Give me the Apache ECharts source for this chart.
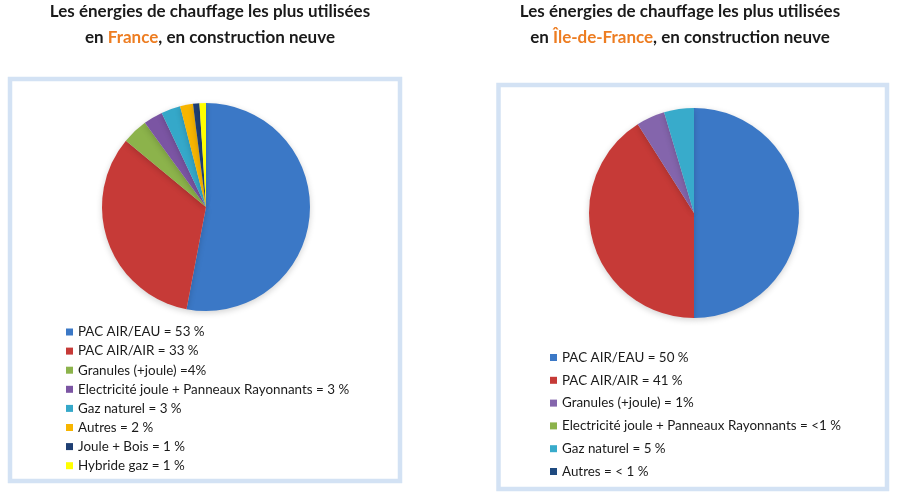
<!DOCTYPE html>
<html><head><meta charset="utf-8">
<script src="https://cdn.jsdelivr.net/npm/echarts@6/dist/echarts.min.js"></script>
<style>html,body{margin:0;padding:0;background:#fff}#c{width:900px;height:494px}</style>
</head><body><div id="c"></div>
<script>
// Left chart: France
const franceLabels = [
  "PAC AIR/EAU = 53 %",
  "PAC AIR/AIR = 33 %",
  "Granules (+joule) =4%",
  "Electricité joule + Panneaux Rayonnants = 3 %",
  "Gaz naturel = 3 %",
  "Autres = 2 %",
  "Joule + Bois = 1 %",
  "Hybride gaz = 1 %"
];
const franceValues = [53, 33, 4, 3, 3, 2, 1, 1];
const franceColors = ["#3b78c6", "#c63a37", "#8cb34b", "#7b55a3", "#35a8c9", "#f7b500", "#1f3f73", "#ffff00"];

// Right chart: Île-de-France (slice sizes as drawn)
const idfLabels = [
  "PAC AIR/EAU = 50 %",
  "PAC AIR/AIR = 41 %",
  "Granules (+joule) = 1%",
  "Electricité joule + Panneaux Rayonnants = <1 %",
  "Gaz naturel = 5 %",
  "Autres = < 1 %"
];
const idfValues = [50, 41, 4.4, 0, 4.6, 0];
const idfColors = ["#3b78c6", "#c63a37", "#8465ac", "#8cb34b", "#38abcb", "#1f4a80"];

const titleLine1 = "Les énergies de chauffage les plus utilisées";
const titleLeftPlace = "France";
const titleRightPlace = "Île-de-France";
const titleLine2Suffix = ", en construction neuve";

const FONT = "Lato, 'Open Sans', sans-serif";

function mkData(labels, values, colors) {
  return labels.map((n, i) => ({ name: n, value: values[i], itemStyle: { color: colors[i] } }));
}
function mkTitle(place, cx) {
  const base = { fontFamily: FONT, fontWeight: 'bold', fontSize: 17, color: '#1a1a1a', lineHeight: 26 };
  return {
    text: titleLine1 + "\n{n|en }{o|" + place + "}{n|" + titleLine2Suffix + "}",
    left: cx, top: -6, textAlign: 'center',
    textStyle: Object.assign({}, base, {
      rich: {
        n: Object.assign({}, base),
        o: Object.assign({}, base, { color: '#ed7d22' })
      }
    })
  };
}
const chart = echarts.init(document.getElementById('c'), null, { renderer: 'canvas' });
const legendCommon = {
  orient: 'vertical', icon: 'rect', itemWidth: 7, itemHeight: 7,
  selectedMode: false, padding: 0,
  textStyle: { fontFamily: FONT, fontSize: 13.4, color: '#1a1a1a', lineHeight: 14 }
};
chart.setOption({
  animation: false,
  backgroundColor: '#ffffff',
  title: [mkTitle(titleLeftPlace, 205), mkTitle(titleRightPlace, 675)],
  graphic: [
    { type: 'rect', shape: { x: 10, y: 79, width: 390, height: 402 }, style: { fill: 'none', stroke: '#d3e2f4', lineWidth: 4.5 }, z: 0 },
    { type: 'rect', shape: { x: 498.5, y: 85, width: 388.5, height: 404 }, style: { fill: 'none', stroke: '#d3e2f4', lineWidth: 4.5 }, z: 0 }
  ],
  legend: [
    Object.assign({}, legendCommon, { left: 66, top: 325, itemGap: 5.1, data: franceLabels }),
    Object.assign({}, legendCommon, { left: 550, top: 350.5, itemGap: 8.8, data: idfLabels })
  ],
  series: [
    {
      type: 'pie', center: [206, 207], radius: 104, startAngle: 90, clockwise: true,
      label: { show: false }, labelLine: { show: false }, silent: true,
      itemStyle: { shadowBlur: 6, shadowColor: 'rgba(0,0,0,0.18)', shadowOffsetY: 2 },
      data: mkData(franceLabels, franceValues, franceColors)
    },
    {
      type: 'pie', center: [694, 213], radius: 105, startAngle: 90, clockwise: true,
      label: { show: false }, labelLine: { show: false }, silent: true, stillShowZeroSum: true,
      itemStyle: { shadowBlur: 6, shadowColor: 'rgba(0,0,0,0.18)', shadowOffsetY: 2 },
      data: mkData(idfLabels, idfValues, idfColors)
    }
  ]
});
</script></body></html>
